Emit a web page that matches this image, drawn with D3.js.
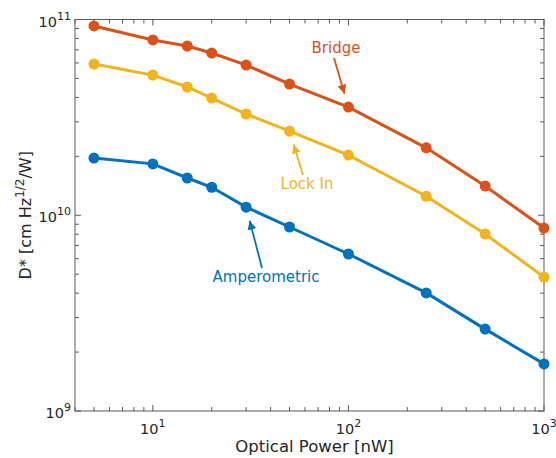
<!DOCTYPE html>
<html lang="en">
<head>
<meta charset="UTF-8">
<title>Detectivity</title>
<style>
  body { margin: 0; background: #fff; }
  text { font-family: "DejaVu Sans", sans-serif; }
</style>
</head>
<body>
<script src="https://d3js.org/d3.v7.min.js"></script>
<script>
// optical power (nW)
var power = [5, 10, 15, 20, 30, 50, 100, 250, 500, 1000];
var bridge = [9.27e10, 7.86e10, 7.32e10, 6.74e10, 5.85e10, 4.68e10, 3.57e10, 2.21e10, 1.41e10, 8.6e9];
var lockIn = [5.92e10, 5.20e10, 4.52e10, 3.97e10, 3.29e10, 2.69e10, 2.03e10, 1.25e10, 8.02e9, 4.83e9];
var ampero = [1.96e10, 1.83e10, 1.55e10, 1.39e10, 1.10e10, 8.71e9, 6.34e9, 4.01e9, 2.62e9, 1.74e9];
var seriesNames = ["Bridge", "Lock In", "Amperometric"];
var seriesColors = ["#DA5219", "#F2B41C", "#0072BD"];
var xTicks = [10, 100, 1000];
var yTicks = [1e9, 1e10, 1e11];

var w = 556, h = 458;
var m = {top: 19.5, right: 12, bottom: 47, left: 75};

var svg = d3.select("body").append("svg")
  .attr("width", w).attr("height", h);

var x = d3.scaleLog().domain([4, 1000]).range([m.left, w - m.right]);
var y = d3.scaleLog().domain([1e9, 1e11]).range([h - m.bottom, m.top]);

var axisCol = "#5a5a5a";
var x0 = x.range()[0], x1 = x.range()[1], y0 = y.range()[0], y1 = y.range()[1];

// minor + major ticks (inward, mirrored)
var xMinor = [];
[1, 10, 100].forEach(function(d) { for (var k = 2; k <= 9; k++) if (d * k >= 4) xMinor.push(d * k); });
var yMinor = [];
[1e9, 1e10].forEach(function(d) { for (var k = 2; k <= 9; k++) yMinor.push(d * k); });

var g = svg.append("g");
xMinor.concat(xTicks).forEach(function(v) {
  var len = xTicks.indexOf(v) >= 0 ? 6 : 4;
  g.append("line").attr("x1", x(v)).attr("x2", x(v)).attr("y1", y0).attr("y2", y0 - len)
    .attr("stroke", axisCol).attr("stroke-width", 1);
  g.append("line").attr("x1", x(v)).attr("x2", x(v)).attr("y1", y1).attr("y2", y1 + len)
    .attr("stroke", axisCol).attr("stroke-width", 1);
});
yMinor.concat(yTicks).forEach(function(v) {
  var len = yTicks.indexOf(v) >= 0 ? 6 : 4;
  g.append("line").attr("y1", y(v)).attr("y2", y(v)).attr("x1", x0).attr("x2", x0 + len)
    .attr("stroke", axisCol).attr("stroke-width", 1);
  g.append("line").attr("y1", y(v)).attr("y2", y(v)).attr("x1", x1).attr("x2", x1 - len)
    .attr("stroke", axisCol).attr("stroke-width", 1);
});

svg.append("rect").attr("x", x0).attr("y", y1).attr("width", x1 - x0).attr("height", y0 - y1)
  .attr("fill", "none").attr("stroke", axisCol).attr("stroke-width", 1);

// tick labels
function powLabel(sel, exp) {
  sel.append("tspan").text("10");
  sel.append("tspan").attr("dy", -7).attr("font-size", "11px").text(exp);
}
xTicks.forEach(function(v) {
  var t = svg.append("text").attr("x", x(v)).attr("y", y0 + 23)
    .attr("text-anchor", "middle").attr("font-size", "14.5px").attr("fill", "#262626");
  powLabel(t, Math.round(Math.log10(v)));
});
yTicks.forEach(function(v) {
  var t = svg.append("text").attr("x", x0 - 4).attr("y", y(v) + 7)
    .attr("text-anchor", "end").attr("font-size", "14.5px").attr("fill", "#262626");
  powLabel(t, Math.round(Math.log10(v)));
});

// axis titles
svg.append("text").attr("x", (x0 + x1) / 2 + 5).attr("y", h - 6)
  .attr("text-anchor", "middle").attr("font-size", "16.5px").attr("fill", "#262626")
  .text("Optical Power [nW]");
var yl = svg.append("text")
  .attr("transform", "translate(31," + ((y0 + y1) / 2) + ") rotate(-90)")
  .attr("text-anchor", "middle").attr("font-size", "16px").attr("fill", "#262626");
yl.append("tspan").text("D* [cm Hz");
yl.append("tspan").attr("dy", -7).attr("font-size", "12px").text("1/2");
yl.append("tspan").attr("dy", 7).text("/W]");

// series
var data = [bridge, lockIn, ampero];
var line = d3.line().x(function(d) { return x(d[0]); }).y(function(d) { return y(d[1]); });
data.forEach(function(vals, i) {
  var pts = power.map(function(p, j) { return [p, vals[j]]; });
  svg.append("path").datum(pts).attr("d", line)
    .attr("fill", "none").attr("stroke", seriesColors[i]).attr("stroke-width", 3);
  svg.selectAll(".dot" + i).data(pts).enter().append("circle")
    .attr("cx", function(d) { return x(d[0]); })
    .attr("cy", function(d) { return y(d[1]); })
    .attr("r", 5.5).attr("fill", seriesColors[i]);
});

// annotations: label position, arrow tail, arrow target point index
var notes = [
  {s: 0, tx: 336, ty: 53, ax: 334, ay: 58, idx: 6},
  {s: 1, tx: 307, ty: 189, ax: 303, ay: 175, idx: 5},
  {s: 2, tx: 266, ty: 282, ax: 262, ay: 268, idx: 4}
];
var defs = svg.append("defs");
seriesColors.forEach(function(c, i) {
  defs.append("marker").attr("id", "ah" + i).attr("viewBox", "0 0 10 10")
    .attr("refX", 10).attr("refY", 5).attr("markerWidth", 5).attr("markerHeight", 5)
    .attr("orient", "auto").attr("markerUnits", "strokeWidth")
    .append("path").attr("d", "M0,0L10,5L0,10z").attr("fill", c);
});
notes.forEach(function(n) {
  var c = seriesColors[n.s];
  var px = x(power[n.idx]), py = y(data[n.s][n.idx]);
  var dx = px - n.ax, dy = py - n.ay, L = Math.sqrt(dx * dx + dy * dy);
  var stop = 14;
  svg.append("line").attr("x1", n.ax).attr("y1", n.ay)
    .attr("x2", px - dx / L * stop).attr("y2", py - dy / L * stop)
    .attr("stroke", c).attr("stroke-width", 1.8).attr("marker-end", "url(#ah" + n.s + ")");
  svg.append("text").attr("x", n.tx).attr("y", n.ty).attr("text-anchor", "middle")
    .attr("font-size", "15px").attr("fill", c).text(seriesNames[n.s]);
});
</script>
</body>
</html>
